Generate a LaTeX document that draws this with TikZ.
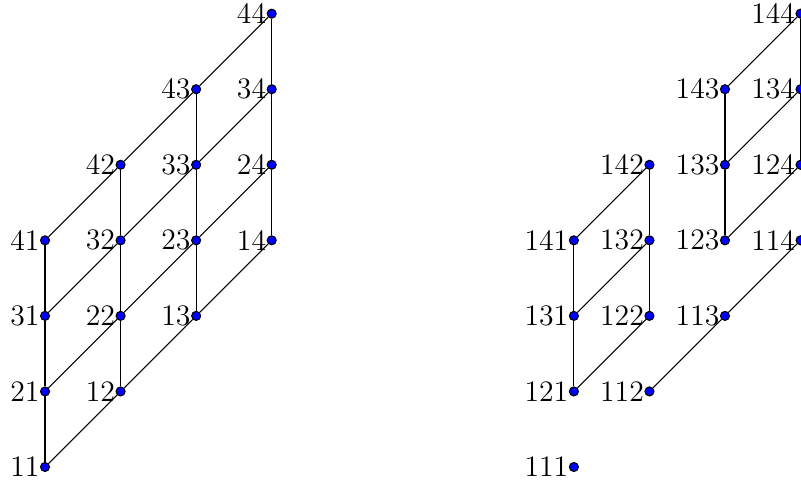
\documentclass[tikz,border=0pt]{standalone}
\begin{document}
\begin{tikzpicture}[x=1cm,y=1cm,
  dot/.style={circle,draw=black,fill=blue,inner sep=0pt,minimum size=3.4pt,line width=0.4pt},
  lab/.style={inner sep=0pt,font=\fontsize{11.2}{13}\selectfont},
  edge/.style={draw=black,line width=0.4pt}]
\useasboundingbox (0,0) rectangle (10.602,6.406);
% left lattice
\foreach \i in {1,...,4}{
  \foreach \j in {1,...,4}{
    \node[dot,label={[lab]left:\i\j}] (a\i\j) at ({0.596+\j-1},{0.225+\i+\j-2}) {};
  }
}
% right lattice
\foreach \i in {1,...,4}{
  \foreach \j in {1,...,4}{
    \node[dot,label={[lab]left:1\i\j}] (b\i\j) at ({7.596+\j-1},{0.225+\i+\j-2}) {};
  }
}
% left edges
\foreach \i in {1,...,4}{
  \foreach \j/\k in {1/2,2/3,3/4}{
    \draw[edge] (a\i\j) -- (a\i\k);
  }
}
\foreach \i/\k in {1/2,2/3,3/4}{
  \foreach \j in {1,...,4}{
    \draw[edge] (a\i\j) -- (a\k\j);
  }
}
% right edges
\foreach \p/\q in {21/22,31/32,41/42,12/13,13/14,23/24,33/34,43/44,
                   21/31,31/41,22/32,32/42,23/33,33/43,24/34,34/44}{
  \draw[edge] (b\p) -- (b\q);
}
\end{tikzpicture}
\end{document}
